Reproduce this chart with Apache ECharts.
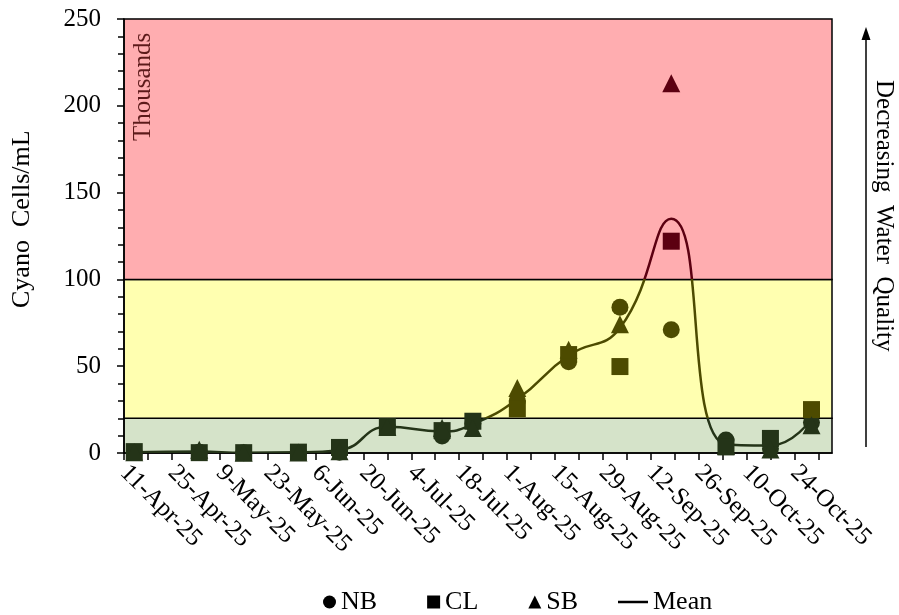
<!DOCTYPE html>
<html>
<head>
<meta charset="utf-8">
<script src="https://cdn.jsdelivr.net/npm/echarts@6/dist/echarts.min.js"></script>
<style>
  html, body { margin: 0; padding: 0; background: #fff; }
  #chart { width: 899px; height: 615px; }
</style>
</head>
<body>
<div id="chart"></div>
<script>
// axis start date and date labels (every 14 days)
const startDate = '2025-04-11'
const tickLabels = ['11-Apr-25', '25-Apr-25', '9-May-25', '23-May-25', '6-Jun-25', '20-Jun-25', '4-Jul-25',
  '18-Jul-25', '1-Aug-25', '15-Aug-25', '29-Aug-25', '12-Sep-25', '26-Sep-25', '10-Oct-25', '24-Oct-25']
const axisEnd = '2025-11-04'

// sampling dates
const sampleDates = ['2025-04-14', '2025-05-03', '2025-05-16', '2025-06-01', '2025-06-13', '2025-06-27', '2025-07-13',
  '2025-07-22', '2025-08-04', '2025-08-19', '2025-09-03', '2025-09-18', '2025-10-04', '2025-10-17', '2025-10-29']

// thousands of cells/mL
const nb = [0.3, 0.4, 0.2, 0.3, 0.5, 15, 9.8, 17, 30, 52.5, 84, 71, 7.5, 2.5, 17.5]
const cl = [0.8, 0.2, 0.2, 0.5, 3.2, 15.2, 12.9, 18.3, 25.5, 56.7, 49.8, 122, 3.5, 8.4, 25]
const sb = [0.5, 1.9, 0.2, 0.3, 1, 15, 14.4, 14.4, 37.5, 59.5, 74.2, 213, 4, 2, 16]
const mean = [0.5, 0.8, 0.2, 0.4, 1.6, 15.1, 12.4, 16.6, 31, 56.2, 72, 135, 5, 4.3, 19.5]

// water quality bands
const bandLimits = [0, 20, 100, 250]
const bandColors = ['#d5e3c9', '#ffffb0', '#ffadb0']
const markerColors = ['#243418', '#4d4b00', '#5c0011']

const DAY = 86400000
const dayOf = d => Math.round((Date.parse(d) - Date.parse(startDate)) / DAY)
const toPairs = vals => sampleDates.map((d, i) => [dayOf(d), vals[i]])

const weekTicks = []
for (let d = 0; d <= dayOf(axisEnd); d += 7) weekTicks.push(d)

const fontFamily = 'Liberation Serif'

const chart = echarts.init(document.getElementById('chart'))

const bandAreas = bandColors.map((c, i) => [
  { yAxis: bandLimits[i], itemStyle: { color: c, borderColor: '#000', borderWidth: 1.5 } },
  { yAxis: bandLimits[i + 1] }
])

chart.setOption({
  animation: false,
  backgroundColor: '#fff',
  grid: { left: 124, right: 67, top: 19, bottom: 162 },
  xAxis: {
    type: 'value',
    min: 0,
    max: dayOf(axisEnd),
    interval: 14,
    z: 1,
    axisLine: { show: true, lineStyle: { color: '#000', width: 1.5 } },
    axisTick: { show: true, length: 7, lineStyle: { color: '#000', width: 1.5 }, customValues: weekTicks },
    axisLabel: {
      rotate: -45,
      margin: 16,
      color: '#000',
      fontSize: 25,
      fontFamily,
      showMaxLabel: false,
      formatter: v => (v % 14 === 0 ? tickLabels[v / 14] || '' : '')
    },
    splitLine: { show: true, lineStyle: { color: 'rgba(0,0,0,0.1)', width: 1.5 } }
  },
  yAxis: {
    type: 'value',
    min: 0,
    max: 250,
    interval: 50,
    z: 1,
    axisLine: { show: true, lineStyle: { color: '#000', width: 1.5 } },
    axisTick: { show: true, length: 7, lineStyle: { color: '#000', width: 1.5 } },
    minorTick: { show: true, splitNumber: 5, length: 6, lineStyle: { color: '#000', width: 1.5 } },
    axisLabel: { color: '#000', fontSize: 25, fontFamily, margin: 23 },
    splitLine: { show: true, lineStyle: { color: 'rgba(0,0,0,0.1)', width: 1.5 } }
  },
  visualMap: {
    show: false,
    type: 'piecewise',
    dimension: 1,
    seriesIndex: [1, 2, 3, 4],
    pieces: markerColors.map((c, i) => ({ gte: bandLimits[i], lt: bandLimits[i + 1], color: c }))
  },
  legend: [
    {
      left: 323,
      top: 589,
      padding: 0,
      itemWidth: 13,
      itemHeight: 13,
      itemGap: 50,
      textStyle: { color: '#000', fontSize: 26, fontFamily },
      data: [
        { name: 'NB', icon: 'circle', itemStyle: { color: '#000' } },
        { name: 'CL', icon: 'rect', itemStyle: { color: '#000' } },
        { name: 'SB', icon: 'triangle', itemStyle: { color: '#000' } }
      ]
    },
    {
      left: 618,
      top: 589,
      padding: 0,
      itemWidth: 30,
      itemHeight: 2.5,
      textStyle: { color: '#000', fontSize: 26, fontFamily },
      data: [{ name: 'Mean', icon: 'rect', itemStyle: { color: '#000' } }]
    }
  ],
  graphic: [
    {
      type: 'text',
      z: 100,
      x: 9,
      y: 308,
      rotation: Math.PI / 2,
      style: { text: 'Cyano  Cells/mL', fill: '#000', font: '26px "Liberation Serif"' }
    },
    {
      type: 'text',
      z: 100,
      x: 131,
      y: 141,
      rotation: Math.PI / 2,
      style: { text: 'Thousands', fill: '#5c1a1a', font: '25px "Liberation Serif"' }
    },
    {
      type: 'line',
      z: 100,
      shape: { x1: 866, y1: 447, x2: 866, y2: 38 },
      style: { stroke: '#000', lineWidth: 1.5 }
    },
    {
      type: 'polygon',
      z: 100,
      shape: { points: [[866, 27], [861.5, 40], [870.5, 40]] },
      style: { fill: '#000' }
    },
    {
      type: 'text',
      z: 100,
      x: 896,
      y: 80,
      rotation: -Math.PI / 2,
      style: { text: 'Decreasing  Water  Quality', fill: '#000', font: '25px "Liberation Serif"' }
    }
  ],
  series: [
    {
      name: 'bands',
      type: 'line',
      z: 0,
      silent: true,
      data: [],
      markArea: { silent: true, data: bandAreas }
    },
    {
      name: 'Mean',
      type: 'line',
      smooth: true,
      symbol: 'none',
      z: 2,
      lineStyle: { width: 2.5 },
      data: toPairs(mean)
    },
    { name: 'NB', type: 'scatter', symbol: 'circle', symbolSize: 17, z: 3, itemStyle: { opacity: 1 }, data: toPairs(nb) },
    { name: 'CL', type: 'scatter', symbol: 'rect', symbolSize: 17, z: 3, itemStyle: { opacity: 1 }, data: toPairs(cl) },
    { name: 'SB', type: 'scatter', symbol: 'triangle', symbolSize: 18, z: 3, itemStyle: { opacity: 1 }, data: toPairs(sb) }
  ]
})
</script>
</body>
</html>
